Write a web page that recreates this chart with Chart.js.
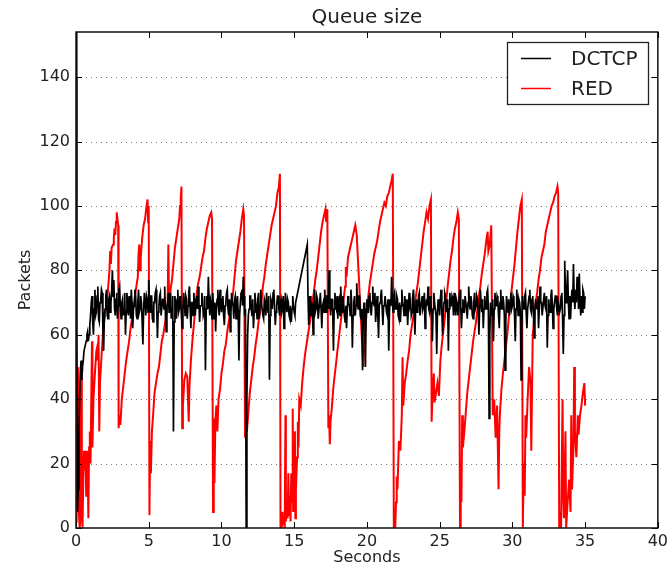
<!DOCTYPE html>
<html><head><meta charset="utf-8">
<script src="https://cdn.jsdelivr.net/npm/chart.js@4/dist/chart.umd.min.js"></script>
<style>html,body{margin:0;padding:0;background:#fff;}#wrap{width:672px;height:569px;}</style>
</head><body><div id="wrap"><canvas id="c" width="672" height="569"></canvas></div>
<script>
const chartTitle = 'Queue size';
const xAxisTitle = 'Seconds';
const yAxisTitle = 'Packets';
const seriesNames = ['DCTCP', 'RED'];
const seriesColors = ['#000000', '#ff0000'];
const xTicks = [0, 5, 10, 15, 20, 25, 30, 35, 40];
const yTicks = [0, 20, 40, 60, 80, 100, 120, 140];
const xRange = [0, 40];
const yRange = [0, 154];

// DCTCP: one sample every 0.05 s starting at 0 s, one row per second
// (null = no sample; the line is drawn straight across the gap)
const dctcpStart = 0;
const dctcpStep = 0.05;
const dctcpValues = [
  154, 60, 5, 12, 30, 40, 49, 52, 46, 50, 52, 55, 55, 57, 58, 60, 61, 58, 60, 63,
  66, 70, 72, 64, 60, 68, 74, 66, 67, 72, 75, 65, 64, 70, 71, 74, 73, 62, 55, 66,
  68, 72, 74, 66, 65, 71, 72, 67, 70, 73, 80, 72, 77, 68, 66, 71, 73, 65, 69, 74,
  75, 68, 65, 70, 71, 66, 68, 73, 60, 67, 73, 69, 66, 72, 70, 65, 74, 70, 62, 68,
  69, 74, 72, 66, 65, 70, 74, 67, 68, 72, 70, 64, 57, 68, 73, 70, 66, 72, 71, 67,
  77, 70, 67, 72, 72, 65, 64, 70, 70, 73, 74, 68, 59, 67, 69, 72, 73, 66, 66, 71,
  71, 68, 75, 66, 61, 69, 70, 73, 67, 71, 73, 65, 68, 72, 30, 64, 72, 69, 65, 71,
  74, 67, 68, 72, 70, 66, 62, 68, 73, 70, 66, 72, 71, 65, 69, 73, 75, 68, 62, 70,
  70, 66, 73, 69, 66, 71, 72, 68, 75, 70, 64, 69, 69, 73, 71, 66, 67, 72, 49, 68,
  72, 68, 78, 70, 66, 71, 70, 65, 73, 69, 65, 70, 61, 68, 71, 74, 68, 66, 74, 70,
  67, 71, 72, 66, 63, 69, 70, 73, 74, 68, 66, 71, 61, 67, 73, 70, 69, 65, 71, 72,
  65, 70, 72, 67, 52, 66, 70, 73, 74, 69, 78, 72, 66, 68, 0, 40, 60, 66, 68, 72,
  72, 68, 66, 71, 62, 67, 73, 70, 69, 65, 71, 73, 65, 69, 74, 70, 68, 66, 65, 71,
  70, 66, 73, 69, 67, 72, 46, 66, 71, 70, 68, 73, 74, 69, 63, 67, 69, 72, 72, 68,
  66, 70, 71, 67, 68, 72, 62, 66, 73, 69, 67, 71, 70, 66, 65, 69, 64, 68, 72, 69,
  67, 66, 70, null, null, null, null, null, null, null, null, null, null, null, null, null, null, null, 88, 72,
  63, 68, 72, 66, 66, 70, 60, 68, 74, 67, 68, 72, 71, 65, 65, 70, 73, 68, 62, 69,
  70, 67, 74, 69, 67, 72, 72, 68, 80, 70, 66, 71, 71, 67, 55, 68, 73, 69, 68, 72,
  65, 70, 71, 66, 75, 69, 67, 72, 70, 66, 64, 69, 62, 68, 72, 70, 69, 66, 74, 70,
  56, 66, 70, 72, 66, 69, 76, 70, 68, 72, 72, 66, 65, 68, 49, 66, 70, 68, 50, 68,
  71, 67, 67, 72, 73, 68, 66, 70, 75, 70, 69, 73, 64, 68, 72, 66, 59, 69, 70, 72,
  74, 68, 63, 69, 69, 72, 72, 67, 66, 71, 55, 67, 71, 69, 78, 70, 67, 72, 73, 68,
  68, 72, 71, 66, 65, 70, 64, 69, 74, 70, 69, 66, 72, 70, 66, 71, 63, 68, 73, 69,
  70, 66, 67, 72, 74, 69, 60, 68, 71, 67, 68, 72, 73, 66, 66, 70, 72, 68, 69, 73,
  62, 68, 71, 69, 75, 68, 67, 72, 70, 66, 58, 68, 73, 70, 68, 66, 54, 67, 71, 69,
  66, 71, 74, 68, 60, 67, 70, 73, 72, 67, 67, 71, 55, 68, 73, 69, 69, 72, 71, 66,
  73, 69, 66, 71, 70, 66, 68, 72, 74, 69, 62, 68, 71, 67, 67, 72, 72, 68, 65, 70,
  75, 69, 68, 72, 70, 66, 65, 70, 73, 68, 69, 72, 71, 67, 60, 68, 74, 70, 67, 71,
  62, 68, 72, 69, 68, 73, 74, 68, 34, 60, 70, 67, 66, 71, 58, 68, 73, 69, 69, 72,
  71, 66, 62, 70, 74, 68, 68, 72, 70, 66, 49, 64, 72, 69, 67, 71, 66, 70, 73, 68,
  69, 72, 71, 66, 58, 68, 74, 70, 66, 71, 70, 67, 46, 62, 72, 69, 68, 72, 73, 67,
  62, 68, 70, 72, 74, 68, 67, 71, 72, 66, 59, 68, 71, 69, 68, 72, 62, 68, 75, 70,
  70, 66, 66, 71, 73, 69, 68, 72, 56, 66, 71, 68, 67, 72, 74, 69, 62, 68, 70, 72,
  72, 68, 66, 70, 70, 67, 68, 72, 73, 66, 54, 66, 83, 72, 70, 75, 80, 70, 65, 72,
  65, 71, 74, 70, 82, 72, 68, 74, 70, 78, 76, 68, 79, 71, 66, 72, 67, 74, 73, 68,
  72
];

const redTime = [
  0.00,0.03,0.06,0.10,0.13,0.17,0.20,0.25,0.30,0.35,
  0.40,0.45,0.50,0.55,0.60,0.65,0.70,0.75,0.80,0.85,
  0.90,0.95,1.00,1.05,1.10,1.13,1.20,1.30,1.40,1.45,
  1.50,1.55,1.60,1.65,1.75,1.85,1.90,2.00,2.10,2.20,
  2.30,2.35,2.40,2.45,2.55,2.60,2.65,2.70,2.75,2.80,
  2.85,2.90,2.93,3.00,3.05,3.15,3.25,3.35,3.45,3.55,
  3.65,3.75,3.85,3.95,4.05,4.15,4.25,4.30,4.35,4.40,
  4.45,4.55,4.65,4.75,4.85,4.92,4.96,5.00,5.05,5.10,
  5.15,5.22,5.30,5.40,5.50,5.60,5.70,5.80,5.90,6.00,
  6.10,6.20,6.30,6.35,6.40,6.50,6.60,6.70,6.80,6.90,
  7.00,7.10,7.15,7.20,7.25,7.30,7.35,7.45,7.55,7.65,
  7.75,7.80,7.90,8.00,8.10,8.20,8.30,8.40,8.50,8.60,
  8.70,8.80,8.90,9.00,9.10,9.20,9.30,9.35,9.42,9.47,
  9.52,9.58,9.65,9.72,9.80,9.90,10.00,10.10,10.20,10.30,
  10.40,10.50,10.60,10.70,10.80,10.90,11.00,11.10,11.20,11.30,
  11.40,11.50,11.55,11.62,11.70,11.75,11.85,11.95,12.05,12.15,
  12.25,12.35,12.45,12.55,12.65,12.75,12.85,12.95,13.05,13.15,
  13.25,13.35,13.45,13.55,13.65,13.75,13.85,13.95,14.02,14.06,
  14.10,14.15,14.20,14.25,14.30,14.35,14.40,14.43,14.50,14.55,
  14.60,14.65,14.70,14.75,14.80,14.85,14.90,14.93,15.00,15.05,
  15.08,15.12,15.20,15.25,15.30,15.35,15.45,15.55,15.65,15.75,
  15.85,15.95,16.05,16.15,16.25,16.35,16.45,16.55,16.65,16.75,
  16.85,16.95,17.05,17.15,17.20,17.28,17.35,17.40,17.45,17.50,
  17.60,17.70,17.80,17.90,18.00,18.10,18.20,18.30,18.40,18.50,
  18.55,18.60,18.70,18.80,18.90,19.00,19.10,19.20,19.30,19.75,
  19.80,19.90,20.00,20.10,20.20,20.30,20.40,20.50,20.60,20.70,
  20.80,20.90,21.00,21.10,21.20,21.30,21.40,21.50,21.60,21.70,
  21.78,21.85,21.90,21.95,22.00,22.05,22.10,22.20,22.30,22.40,
  22.45,22.50,22.60,22.70,22.80,22.90,23.00,23.10,23.20,23.30,
  23.40,23.50,23.60,23.70,23.80,23.90,24.00,24.10,24.20,24.30,
  24.40,24.45,24.50,24.60,24.65,24.75,24.85,24.95,25.05,25.15,
  25.25,25.35,25.45,25.55,25.65,25.75,25.85,25.95,26.05,26.15,
  26.25,26.32,26.40,26.45,26.50,26.55,26.60,26.70,26.80,26.90,
  27.00,27.10,27.20,27.30,27.40,27.50,27.60,27.70,27.80,27.90,
  28.00,28.10,28.20,28.30,28.35,28.45,28.55,28.65,28.75,28.85,
  28.95,29.05,29.10,29.15,29.25,29.35,29.45,29.55,29.65,29.75,
  29.85,29.95,30.05,30.15,30.25,30.35,30.45,30.55,30.65,30.72,
  30.78,30.85,30.90,30.95,31.05,31.15,31.25,31.30,31.40,31.50,
  31.60,31.70,31.80,31.90,32.00,32.10,32.20,32.30,32.40,32.50,
  32.60,32.70,32.80,32.90,33.00,33.10,33.15,33.22,33.30,33.35,
  33.45,33.50,33.55,33.65,33.70,33.80,33.90,34.00,34.05,34.10,
  34.20,34.25,34.30,34.40,34.50,34.55,34.65,34.75,34.85,34.95,
  35.00
];
const redValues = [
  2,140,60,10,50,30,5,0,2,47,
  10,0,15,24,18,24,10,24,20,3,
  25,30,20,40,58,25,40,48,55,56,
  52,60,30,45,53,60,63,66,70,74,
  80,86,82,87,88,90,93,91,95,98,
  96,94,31,35,32,40,44,48,52,55,
  58,62,65,69,72,75,78,85,88,80,
  84,90,94,96,100,102,95,100,4,27,
  17,30,35,42,45,48,50,54,58,60,
  63,66,69,88,68,74,77,82,87,90,
  93,96,100,102,106,31,38,46,48,47,
  33,44,52,58,63,68,73,76,78,81,
  84,86,90,93,95,97,98,96,5,34,
  14,33,38,30,40,43,48,51,55,57,
  61,64,67,70,73,78,83,86,89,92,
  96,99,97,28,35,30,36,42,46,50,
  53,57,60,64,67,70,75,78,82,85,
  88,91,94,96,98,100,104,106,110,0,
  3,0,5,1,3,0,35,2,8,3,
  17,4,10,2,17,8,37,5,10,30,
  3,12,22,33,25,40,38,45,50,54,
  57,60,63,66,70,73,77,80,84,88,
  92,95,97,99,95,99,31,35,26,33,
  38,44,48,52,56,60,64,68,71,75,
  81,78,84,86,88,90,92,94,91,50,
  55,62,68,72,76,79,82,85,87,89,
  92,95,97,99,101,100,103,104,106,108,
  110,0,3,0,8,16,12,27,24,35,
  53,38,45,48,52,55,60,63,66,70,
  73,76,80,84,88,92,95,98,96,100,
  102,33,40,48,39,42,45,41,52,57,
  61,65,70,75,79,83,86,90,93,95,
  98,96,0,20,8,35,25,30,36,42,
  46,50,54,58,61,64,68,72,75,79,
  82,85,89,92,86,88,94,35,40,28,
  38,12,30,36,43,48,52,56,60,65,
  70,74,78,82,87,92,96,100,102,0,
  20,10,35,28,40,50,45,24,60,65,
  70,73,77,80,84,86,88,92,94,96,
  98,100,101,103,104,106,104,0,5,0,
  40,10,3,30,0,8,15,5,35,12,
  25,50,30,22,35,29,35,38,42,45,
  38
];

const FONT = 'DejaVu Sans';
const TEXT = '#222';

const dctcpData = dctcpValues.map((v, i) => ({ x: +(dctcpStart + i * dctcpStep).toFixed(2), y: v }));
const redData = redTime.map((t, i) => ({ x: t, y: redValues[i] }));

const decor = {
  id: 'decor',
  beforeDatasetsDraw(chart) {
    const { ctx, chartArea: a, scales: { y } } = chart;
    ctx.save();
    ctx.strokeStyle = '#777';
    ctx.lineWidth = 1;
    ctx.setLineDash([1, 4]);
    yTicks.forEach(v => {
      if (v === yRange[0]) return;
      const py = Math.round(y.getPixelForValue(v)) + 0.5;
      ctx.beginPath();
      ctx.moveTo(a.left, py);
      ctx.lineTo(a.right, py);
      ctx.stroke();
    });
    ctx.restore();
  },
  afterDatasetsDraw(chart) {
    const { ctx, chartArea: a, scales: { x, y } } = chart;
    ctx.save();
    ctx.strokeStyle = '#000';
    ctx.lineWidth = 1;
    ctx.beginPath();
    xTicks.forEach(v => {
      const px = Math.round(x.getPixelForValue(v)) + 0.5;
      ctx.moveTo(px, a.bottom); ctx.lineTo(px, a.bottom - 6);
      ctx.moveTo(px, a.top); ctx.lineTo(px, a.top + 6);
    });
    yTicks.forEach(v => {
      const py = Math.round(y.getPixelForValue(v)) + 0.5;
      ctx.moveTo(a.left, py); ctx.lineTo(a.left + 6, py);
      ctx.moveTo(a.right, py); ctx.lineTo(a.right - 6, py);
    });
    ctx.stroke();
    ctx.lineWidth = 1.5;
    ctx.strokeStyle = '#111';
    ctx.strokeRect(a.left, a.top, a.right - a.left, a.bottom - a.top);
    const bx = 507, by = 42, bw = 141, bh = 62;
    ctx.fillStyle = '#fff';
    ctx.fillRect(bx, by, bw, bh);
    ctx.lineWidth = 1.3;
    ctx.strokeStyle = '#222';
    ctx.strokeRect(bx + 0.5, by + 0.5, bw, bh);
    ctx.font = '20px "' + FONT + '"';
    ctx.textBaseline = 'middle';
    ctx.textAlign = 'left';
    chart.data.datasets.forEach((ds, i) => {
      const ly = 58.5 + i * 30;
      ctx.strokeStyle = ds.borderColor;
      ctx.lineWidth = 1.5;
      ctx.beginPath();
      ctx.moveTo(521, ly); ctx.lineTo(551, ly);
      ctx.stroke();
      ctx.fillStyle = TEXT;
      ctx.fillText(ds.label, 571, ly + 1);
    });
    ctx.font = '20px "' + FONT + '"';
    ctx.textAlign = 'center';
    ctx.fillStyle = TEXT;
    ctx.fillText(chartTitle, (a.left + a.right) / 2, 18);
    ctx.restore();
  }
};

new Chart(document.getElementById('c'), {
  type: 'line',
  data: {
    datasets: [
      { label: seriesNames[0], data: dctcpData, borderColor: seriesColors[0], borderWidth: 1.7, pointRadius: 0, tension: 0, spanGaps: true, fill: false },
      { label: seriesNames[1], data: redData, borderColor: seriesColors[1], borderWidth: 2, pointRadius: 0, tension: 0, fill: false }
    ]
  },
  options: {
    responsive: false,
    animation: false,
    devicePixelRatio: 1,
    layout: { padding: { top: 32, right: 14, left: 0, bottom: 0 } },
    plugins: { legend: { display: false }, title: { display: false }, tooltip: { enabled: false } },
    scales: {
      x: {
        type: 'linear', min: xRange[0], max: xRange[1],
        afterBuildTicks: s => { s.ticks = xTicks.map(v => ({ value: v })); },
        afterFit: s => { s.height = 41; },
        grid: { display: false, drawTicks: false },
        border: { display: false },
        ticks: { padding: 4, autoSkip: false, maxRotation: 0, color: TEXT, font: { family: FONT, size: 16 }, callback: v => String(v) },
        title: { display: true, text: xAxisTitle, color: TEXT, font: { family: FONT, size: 16 }, padding: { top: 0, bottom: 1.5 } }
      },
      y: {
        type: 'linear', min: yRange[0], max: yRange[1],
        afterBuildTicks: s => { s.ticks = yTicks.map(v => ({ value: v })); },
        afterFit: s => { s.width = 76; },
        grid: { display: false, drawTicks: false },
        border: { display: false },
        ticks: { padding: 6, autoSkip: false, color: TEXT, font: { family: FONT, size: 16 }, callback: v => String(v) },
        title: { display: true, text: yAxisTitle, color: TEXT, font: { family: FONT, size: 16 }, padding: { top: 16, bottom: 0 } }
      }
    }
  },
  plugins: [decor]
});
</script>
</body></html>
